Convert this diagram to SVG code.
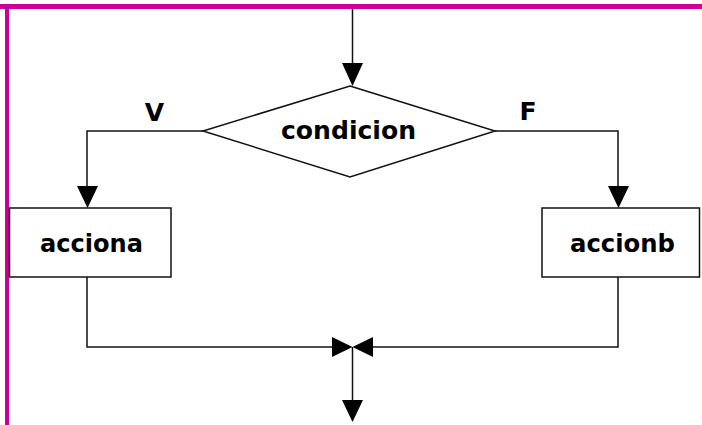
<svg xmlns="http://www.w3.org/2000/svg" width="702" height="425" viewBox="0 0 702 425">
  <style>
    .frame { fill: #CC0099; }
    .line { fill: none; stroke: #111; stroke-width: 1.5; }
    .shape { fill: #fff; stroke: #111; stroke-width: 1.5; }
    .head { fill: #000; }
    .label { font-family: "DejaVu Sans", "Verdana", sans-serif; font-weight: bold; font-size: 25px; fill: #000; }
  </style>

  <rect width="702" height="425" fill="#fff"/>
  <!-- page frame -->
  <rect class="frame" x="0" y="4" width="702" height="5"/>
  <rect class="frame" x="5" y="4" width="4" height="421"/>

  <g id="connectors">
    <!-- entry -->
    <line class="line" x1="352.5" y1="9" x2="352.5" y2="66"/>
    <polygon class="head" points="342,63 363,63 352.5,86"/>
    <!-- true branch -->
    <polyline class="line" points="203,131 87,131 87,190"/>
    <polygon class="head" points="77,186 98,186 87.5,208"/>
    <!-- false branch -->
    <polyline class="line" points="495,131 618,131 618,190"/>
    <polygon class="head" points="608,186 629,186 618.5,208"/>
    <!-- merge -->
    <polyline class="line" points="87,277 87,347 334,347"/>
    <polyline class="line" points="618,277 618,347 371,347"/>
    <polygon class="head" points="332,337 332,357 352.5,347"/>
    <polygon class="head" points="373,337 373,357 352.5,347"/>
    <line class="line" x1="352.5" y1="347" x2="352.5" y2="403"/>
    <polygon class="head" points="342,400 363,400 352.5,422"/>
    <text class="label" x="154.5" y="121" text-anchor="middle">V</text>
    <text class="label" x="528" y="120" text-anchor="middle">F</text>
  </g>

  <g id="condicion">
    <polygon class="shape" stroke-width="1.2" points="350,86 495,131 350,177 203,131"/>
    <text class="label" x="348.5" y="139" text-anchor="middle" textLength="135" lengthAdjust="spacingAndGlyphs">condicion</text>
  </g>

  <g id="acciona">
    <rect class="shape" x="9.5" y="208" width="161.5" height="69"/>
    <text class="label" x="91.5" y="252" text-anchor="middle" textLength="103" lengthAdjust="spacingAndGlyphs">acciona</text>
  </g>

  <g id="accionb">
    <rect class="shape" x="542" y="208" width="157.5" height="69"/>
    <text class="label" x="622.5" y="252" text-anchor="middle" textLength="105" lengthAdjust="spacingAndGlyphs">accionb</text>
  </g>
</svg>
